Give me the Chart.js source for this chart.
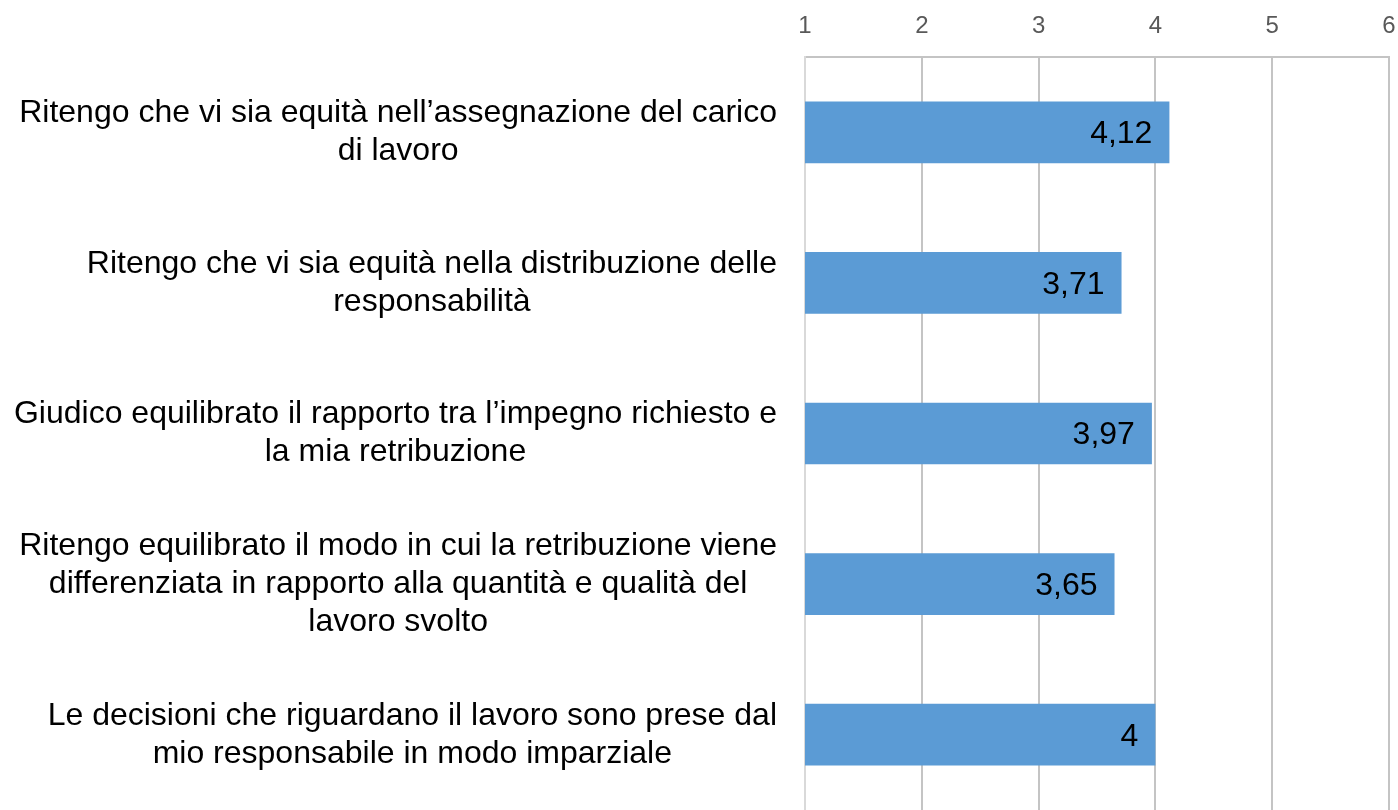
<!DOCTYPE html>
<html>
<head>
<meta charset="utf-8">
<script src="https://cdn.jsdelivr.net/npm/chart.js@4.4.0/dist/chart.umd.min.js"></script>
<style>
  html, body { margin: 0; padding: 0; background: #fff; overflow: hidden; }
  #wrap { width: 1398px; height: 810px; position: relative; }
</style>
</head>
<body>
<div id="wrap"><canvas id="grafico"></canvas></div>
<script>
const categorie = [
  ['Ritengo che vi sia equità nell’assegnazione del carico', 'di lavoro'],
  ['Ritengo che vi sia equità nella distribuzione delle', 'responsabilità'],
  ['Giudico equilibrato il rapporto tra l’impegno richiesto e', 'la mia retribuzione'],
  ['Ritengo equilibrato il modo in cui la retribuzione viene', 'differenziata in rapporto alla quantità e qualità del', 'lavoro svolto'],
  ['Le decisioni che riguardano il lavoro sono prese dal', 'mio responsabile in modo imparziale']
];
const valori = [4.12, 3.71, 3.97, 3.65, 4];
const tickValori = [1, 2, 3, 4, 5, 6];

const fontFamiglia = '"Liberation Sans", Arial, Helvetica, sans-serif';

// etichette categoria: blocco allineato a destra, righe centrate nel blocco
const etichetteCategorie = {
  id: 'etichetteCategorie',
  afterDraw(chart) {
    const ctx = chart.ctx;
    const yScale = chart.scales.y;
    const destra = chart.chartArea.left - 28;
    ctx.save();
    ctx.font = '32px ' + fontFamiglia;
    ctx.fillStyle = '#000';
    ctx.textAlign = 'center';
    ctx.textBaseline = 'middle';
    categorie.forEach(function(righe, i) {
      const y = yScale.getPixelForTick(i);
      let larghezza = 0;
      righe.forEach(function(r) { larghezza = Math.max(larghezza, ctx.measureText(r).width); });
      const cx = destra - larghezza / 2;
      righe.forEach(function(r, j) {
        ctx.fillText(r, cx, y + (j - (righe.length - 1) / 2) * 38);
      });
    });
    ctx.restore();
  }
};

// valori dentro la fine della barra
const etichetteValori = {
  id: 'etichetteValori',
  afterDatasetsDraw(chart) {
    const ctx = chart.ctx;
    const meta = chart.getDatasetMeta(0);
    ctx.save();
    ctx.font = '32px ' + fontFamiglia;
    ctx.fillStyle = '#000';
    ctx.textAlign = 'right';
    ctx.textBaseline = 'middle';
    meta.data.forEach(function(bar, i) {
      const testo = String(valori[i]).replace('.', ',');
      ctx.fillText(testo, bar.x - 17, bar.y + 2);
    });
    ctx.restore();
  }
};

const ctx = document.getElementById('grafico').getContext('2d');
const grafico = new Chart(ctx, {
  type: 'bar',
  data: {
    labels: categorie.map(function(c) { return c.join(' '); }),
    datasets: [{
      data: valori,
      backgroundColor: '#5B9BD5',
      borderWidth: 0,
      barPercentage: 0.82,
      categoryPercentage: 0.5
    }]
  },
  options: {
    indexAxis: 'y',
    responsive: true,
    maintainAspectRatio: false,
    animation: false,
    layout: { padding: { left: 805, right: 0, top: 0, bottom: 0 } },
    plugins: {
      legend: { display: false },
      tooltip: { enabled: false }
    },
    scales: {
      x: {
        position: 'top',
        min: 1,
        max: 6,
        afterBuildTicks: function(scale) {
          scale.ticks = tickValori.map(function(v) { return { value: v }; });
        },
        afterFit: function(scale) {
          scale.height = 57;
          scale.paddingLeft = 0;
          scale.paddingRight = 9;
        },
        ticks: {
          color: '#595959',
          font: { family: fontFamiglia, size: 24 },
          padding: 16
        },
        grid: { color: '#C4C4C4', lineWidth: 2, drawTicks: false },
        border: { display: true, color: '#C4C4C4', width: 2 }
      },
      y: {
        ticks: { display: false },
        grid: { display: false, drawTicks: false },
        border: { display: true, color: '#D9D9D9', width: 2 }
      }
    }
  },
  plugins: [etichetteCategorie, etichetteValori]
});
</script>
</body>
</html>
